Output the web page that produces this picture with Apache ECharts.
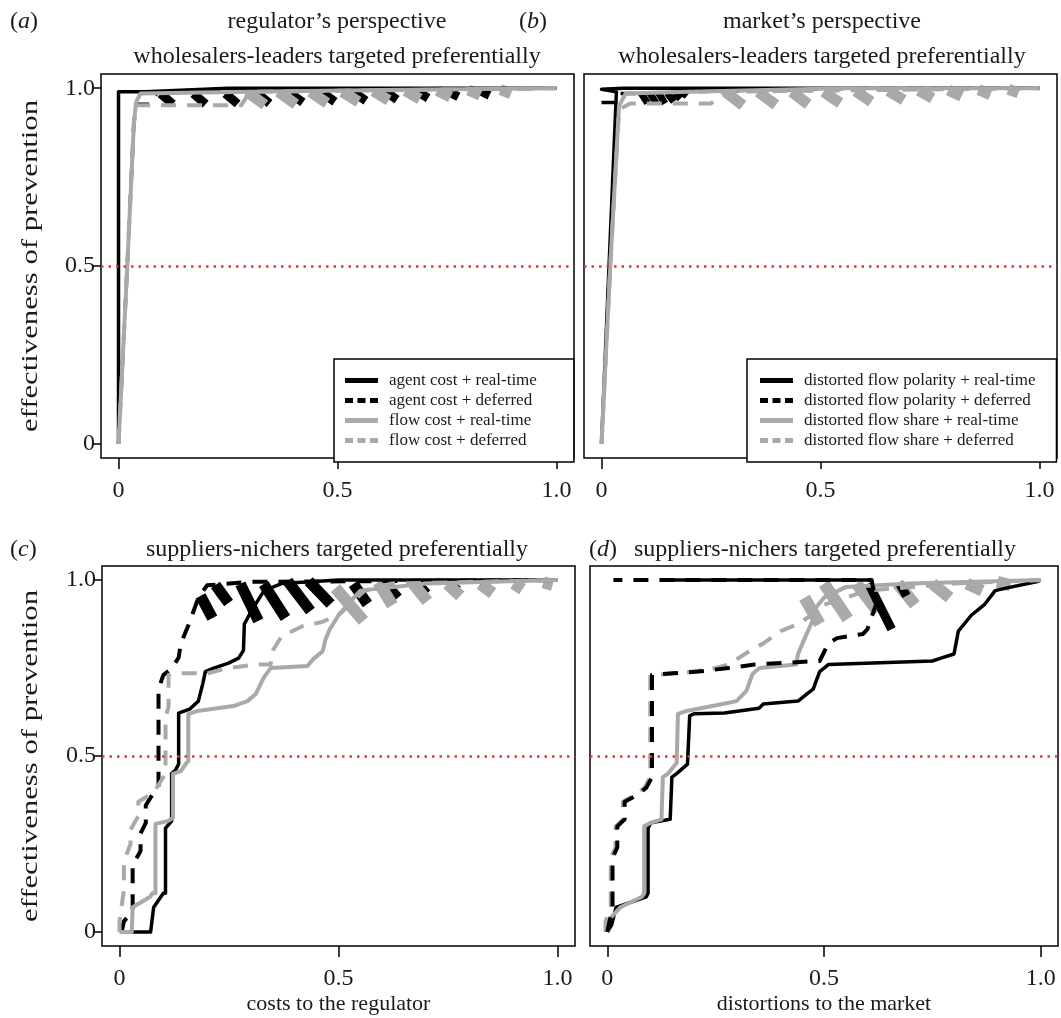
<!DOCTYPE html>
<html>
<head>
<meta charset="utf-8">
<script src="https://cdn.jsdelivr.net/npm/echarts@6/dist/echarts.min.js"></script>
<style>
  html, body { margin: 0; padding: 0; background: #fff; }
  #chart { width: 1061px; height: 1018px; }
</style>
</head>
<body>
<div id="chart"></div>
<script>
// ---- tick labels ----
const tickValues = [0, 0.5, 1.0];
const tickLabels = ['0', '0.5', '1.0'];

// ---- legend names ----
const namesCost = ['agent cost + real-time', 'agent cost + deferred', 'flow cost + real-time', 'flow cost + deferred'];
const namesMarket = ['distorted flow polarity + real-time', 'distorted flow polarity + deferred',
  'distorted flow share + real-time', 'distorted flow share + deferred'];

// ---- panel (a): regulator, wholesalers-leaders ----
const aBlackSolid = [[0, 0], [0, 0.99], [0.06, 0.99], [0.25, 1.0], [1, 1]];
const aBlackDashed = [[0, 0], [0.02, 0.5], [0.035, 0.9], [0.04, 0.955], [0.07, 0.955], [0.09, 0.99], [1, 1]];
const aGraySolid = [[0, 0], [0.02, 0.5], [0.035, 0.9], [0.04, 0.96], [0.05, 0.985], [0.3, 0.99], [0.6, 0.995], [1, 1]];
const aGrayDashed = [[0, 0], [0.02, 0.5], [0.035, 0.9], [0.04, 0.952], [0.28, 0.952], [0.3, 0.99], [1, 1]];
const aBlackHatch = [
  [0.096, 0.985, 0.124, 0.955], [0.171, 0.985, 0.199, 0.955], [0.244, 0.985, 0.272, 0.956],
  [0.317, 0.985, 0.345, 0.957], [0.393, 0.985, 0.421, 0.96], [0.466, 0.987, 0.494, 0.962],
  [0.537, 0.988, 0.565, 0.965], [0.61, 0.99, 0.636, 0.968], [0.683, 0.99, 0.707, 0.972],
  [0.754, 0.99, 0.776, 0.976], [0.827, 0.992, 0.847, 0.98]
];
const aGrayHatch = [
  [0.294, 0.99, 0.334, 0.953], [0.365, 0.99, 0.405, 0.955], [0.438, 0.99, 0.476, 0.958],
  [0.511, 0.99, 0.548, 0.962], [0.582, 0.992, 0.617, 0.966], [0.655, 0.993, 0.688, 0.97],
  [0.728, 0.994, 0.758, 0.975], [0.799, 0.995, 0.826, 0.98], [0.872, 0.996, 0.896, 0.985]
];

// ---- panel (b): market, wholesalers-leaders ----
const bBlackSolid = [[0, 0], [0.034, 0.99], [0, 0.997], [0.05, 1.0], [1, 1]];
const bBlackDashed = [[0, 0.96], [0.035, 0.96], [0.04, 0.985], [0.09, 0.985], [0.2, 0.99], [0.59, 1.0], [1, 1]];
const bGraySolid = [[0, 0], [0.02, 0.5], [0.04, 0.95], [0.055, 0.985], [0.2, 0.99], [0.55, 1.0], [1, 1]];
const bGrayDashed = [[0, 0], [0.02, 0.5], [0.04, 0.94], [0.065, 0.957], [0.25, 0.957], [0.283, 0.99], [1, 1]];
const bBlackHatch = [
  [0.09, 0.987, 0.105, 0.958], [0.11, 0.987, 0.125, 0.957], [0.13, 0.987, 0.145, 0.957],
  [0.15, 0.987, 0.165, 0.962], [0.168, 0.987, 0.18, 0.97], [0.185, 0.988, 0.195, 0.978]
];
const bGrayHatch = [
  [0.283, 0.99, 0.323, 0.952], [0.358, 0.99, 0.398, 0.953], [0.434, 0.99, 0.472, 0.955],
  [0.507, 0.99, 0.545, 0.958], [0.58, 0.992, 0.616, 0.962], [0.655, 0.993, 0.69, 0.967],
  [0.724, 0.994, 0.756, 0.972], [0.792, 0.995, 0.822, 0.977], [0.861, 0.996, 0.888, 0.982],
  [0.929, 0.997, 0.952, 0.987]
];

// ---- panel (c): regulator, suppliers-nichers ----
const cBlackSolid = [[0.02, 0], [0.071, 0], [0.078, 0.07], [0.1, 0.11], [0.105, 0.11], [0.105, 0.295],
  [0.119, 0.315], [0.119, 0.45], [0.128, 0.46], [0.135, 0.477], [0.135, 0.622], [0.16, 0.633],
  [0.18, 0.656], [0.19, 0.705], [0.196, 0.74], [0.215, 0.75], [0.249, 0.764], [0.272, 0.778],
  [0.283, 0.8], [0.285, 0.875], [0.3, 0.91], [0.315, 0.94], [0.33, 0.97], [0.37, 0.99], [0.5, 1.0], [1, 1]];
const cBlackDashed = [[0.005, 0], [0.01, 0.03], [0.03, 0.06], [0.03, 0.19], [0.048, 0.23], [0.048, 0.28],
  [0.06, 0.31], [0.06, 0.36], [0.075, 0.39], [0.089, 0.41], [0.089, 0.69], [0.1, 0.73], [0.12, 0.75],
  [0.135, 0.78], [0.14, 0.82], [0.16, 0.88], [0.18, 0.95], [0.2, 0.985], [0.3, 0.995], [1, 1]];
const cGraySolid = [[0, 0], [0.028, 0], [0.03, 0.07], [0.07, 0.1], [0.075, 0.11], [0.082, 0.11], [0.082, 0.307],
  [0.11, 0.315], [0.122, 0.324], [0.122, 0.449], [0.14, 0.457], [0.151, 0.477], [0.157, 0.486],
  [0.157, 0.619], [0.178, 0.628], [0.26, 0.642], [0.292, 0.656], [0.311, 0.676], [0.329, 0.722],
  [0.345, 0.75], [0.429, 0.756], [0.443, 0.776], [0.464, 0.798], [0.47, 0.83], [0.48, 0.86],
  [0.5, 0.9], [0.52, 0.93], [0.55, 0.97], [0.7, 0.99], [1, 1]];
const cGrayDashed = [[0, 0], [0, 0.03], [0.01, 0.12], [0.01, 0.2], [0.025, 0.25], [0.025, 0.29], [0.043, 0.33],
  [0.043, 0.37], [0.07, 0.39], [0.08, 0.4], [0.105, 0.45], [0.105, 0.61], [0.112, 0.64], [0.112, 0.73],
  [0.14, 0.735], [0.2, 0.735], [0.25, 0.75], [0.31, 0.76], [0.345, 0.76], [0.35, 0.8], [0.37, 0.84],
  [0.42, 0.87], [0.46, 0.88], [0.5, 0.9], [0.56, 0.97], [0.62, 0.99], [1, 1]];
const cBlackHatch = [
  [0.185, 0.955, 0.212, 0.892], [0.219, 0.986, 0.249, 0.935], [0.276, 0.989, 0.317, 0.884],
  [0.329, 0.989, 0.379, 0.892], [0.384, 0.997, 0.436, 0.912], [0.432, 0.997, 0.482, 0.932],
  [0.534, 0.989, 0.566, 0.932], [0.607, 0.989, 0.635, 0.949], [0.68, 0.989, 0.7, 0.96],
  [0.749, 0.989, 0.772, 0.969], [0.824, 0.989, 0.84, 0.977]
];
const cGrayHatch = [
  [0.493, 0.977, 0.557, 0.884], [0.591, 0.994, 0.623, 0.929], [0.671, 0.989, 0.703, 0.94],
  [0.749, 0.989, 0.778, 0.955], [0.824, 0.989, 0.852, 0.963], [0.9, 0.991, 0.92, 0.974],
  [0.968, 0.994, 0.989, 0.986]
];

// ---- panel (d): market, suppliers-nichers ----
const dBlackSolid = [[0, 0], [0.01, 0.02], [0.02, 0.07], [0.09, 0.1], [0.094, 0.11], [0.094, 0.295], [0.1, 0.31],
  [0.145, 0.32], [0.149, 0.44], [0.16, 0.45], [0.185, 0.477], [0.19, 0.614], [0.2, 0.62], [0.27, 0.622],
  [0.35, 0.636], [0.36, 0.648], [0.44, 0.656], [0.46, 0.676], [0.475, 0.69], [0.49, 0.74], [0.51, 0.76],
  [0.75, 0.77], [0.77, 0.778], [0.8, 0.79], [0.81, 0.855], [0.84, 0.9], [0.87, 0.93], [0.895, 0.97],
  [0.92, 0.977], [0.99, 0.995], [1, 1]];
const dBlackDashed = [[0, 0], [0.005, 0.03], [0.012, 0.07], [0.012, 0.21], [0.023, 0.24], [0.023, 0.3],
  [0.04, 0.32], [0.04, 0.37], [0.07, 0.39], [0.09, 0.41], [0.103, 0.44], [0.103, 0.73], [0.15, 0.735],
  [0.21, 0.74], [0.28, 0.75], [0.34, 0.76], [0.41, 0.765], [0.49, 0.77], [0.51, 0.82], [0.53, 0.835],
  [0.59, 0.847], [0.6, 0.86], [0.62, 0.93], [0.61, 1.0], [0.3, 1.0], [0.014, 1.0]];
const dBlackTop = [[0.128, 1.0], [0.61, 1.0]];
const dGraySolid = [[0, 0], [0, 0.03], [0.03, 0.07], [0.08, 0.1], [0.085, 0.11], [0.085, 0.3], [0.1, 0.31],
  [0.125, 0.32], [0.128, 0.44], [0.14, 0.45], [0.16, 0.48], [0.163, 0.62], [0.18, 0.627], [0.266, 0.648],
  [0.298, 0.656], [0.321, 0.685], [0.335, 0.733], [0.351, 0.75], [0.436, 0.76], [0.44, 0.79],
  [0.46, 0.847], [0.472, 0.88], [0.48, 0.92], [0.5, 0.95], [0.55, 0.98], [0.7, 0.99], [1, 1]];
const dGrayDashed = [[-0.004, 0], [-0.004, 0.03], [0.008, 0.07], [0.008, 0.21], [0.019, 0.24], [0.019, 0.3],
  [0.036, 0.32], [0.036, 0.37], [0.066, 0.39], [0.086, 0.41], [0.099, 0.44], [0.099, 0.73], [0.14, 0.733],
  [0.2, 0.74], [0.25, 0.75], [0.28, 0.76], [0.33, 0.8], [0.36, 0.82], [0.4, 0.855], [0.44, 0.875],
  [0.47, 0.9], [0.5, 0.93], [0.6, 0.97], [0.8, 0.99], [1, 1]];
const dBlackHatch = [[0.603, 0.99, 0.656, 0.86], [0.675, 0.99, 0.69, 0.955]];
const dGrayHatch = [
  [0.455, 0.95, 0.49, 0.875], [0.5, 0.99, 0.555, 0.89], [0.575, 0.99, 0.625, 0.91],
  [0.67, 0.99, 0.71, 0.93], [0.75, 0.99, 0.79, 0.95], [0.83, 0.99, 0.865, 0.97], [0.9, 0.995, 0.93, 0.985]
];

const threshold = 0.5;

const FONT = 'Liberation Serif';
const BLACK = '#000000';
const GRAY = '#a9a9a9';
const TEXT = '#1a1a1a';
const DASH = [15, 11];
const ICON_SOLID = 'path://M0,0H33V5H0Z';
const ICON_DASHED = 'path://M0,0H8V5H0ZM12.5,0H20.5V5H12.5ZM25,0H33V5H25Z';

function fmt(v) {
  const i = tickValues.indexOf(Math.round(v * 100) / 100);
  return i >= 0 ? tickLabels[i] : '';
}

function xAxisFor(i, name) {
  return {
    type: 'value', gridIndex: i, min: -0.04, max: 1.04,
    axisLine: { show: false, onZero: false },
    splitLine: { show: false },
    axisTick: { show: true, length: 11, customValues: tickValues, lineStyle: { color: BLACK, width: 1.5 } },
    axisLabel: { customValues: tickValues, formatter: fmt, fontSize: 24, fontFamily: FONT, color: TEXT, margin: 21 },
    name: name || '', nameLocation: 'middle', nameGap: 47,
    nameTextStyle: { fontSize: 22, fontFamily: FONT, color: TEXT }
  };
}

function yAxisFor(i, showLabels) {
  return {
    type: 'value', gridIndex: i, min: -0.04, max: 1.04,
    axisLine: { show: false, onZero: false },
    splitLine: { show: false },
    axisTick: { show: showLabels, length: 9, customValues: tickValues, lineStyle: { color: BLACK, width: 1.5 } },
    axisLabel: { show: showLabels, customValues: tickValues, formatter: fmt, fontSize: 24, fontFamily: FONT, color: TEXT, margin: 6 }
  };
}

function line(name, data, idx, color, dashed, width, withMark) {
  const s = {
    type: 'line', name, data, xAxisIndex: idx, yAxisIndex: idx,
    symbol: 'none', showSymbol: false, silent: true,
    lineStyle: { color, width, type: dashed ? DASH : 'solid', cap: 'butt', join: 'round' },
    itemStyle: { color }
  };
  if (withMark) {
    s.markLine = {
      silent: true, symbol: 'none', label: { show: false },
      lineStyle: { color: '#e03a2f', type: [2.5, 5], width: 2.5 },
      data: [{ yAxis: threshold }]
    };
  }
  return s;
}

function hatch(data, idx, color, width) {
  return {
    type: 'custom', data, xAxisIndex: idx, yAxisIndex: idx, silent: true,
    encode: { x: [0, 2], y: [1, 3] },
    renderItem(params, api) {
      const p1 = api.coord([api.value(0), api.value(1)]);
      const p2 = api.coord([api.value(2), api.value(3)]);
      return {
        type: 'line',
        shape: { x1: p1[0], y1: p1[1], x2: p2[0], y2: p2[1] },
        style: { stroke: color, lineWidth: width, lineCap: 'butt' }
      };
    }
  };
}

const series = [
  // (a)
  line(namesCost[0], aBlackSolid, 0, BLACK, false, 3.5, true),
  line(namesCost[1], aBlackDashed, 0, BLACK, true, 3.5),
  hatch(aBlackHatch, 0, BLACK, 9),
  line(namesCost[2], aGraySolid, 0, GRAY, false, 4),
  line(namesCost[3], aGrayDashed, 0, GRAY, true, 4),
  hatch(aGrayHatch, 0, GRAY, 11),
  // (b)
  line(namesMarket[0], bBlackSolid, 1, BLACK, false, 3.5, true),
  line(namesMarket[1], bBlackDashed, 1, BLACK, true, 3.5),
  hatch(bBlackHatch, 1, BLACK, 7),
  line(namesMarket[2], bGraySolid, 1, GRAY, false, 4),
  line(namesMarket[3], bGrayDashed, 1, GRAY, true, 4),
  hatch(bGrayHatch, 1, GRAY, 11),
  // (c)
  line(namesCost[0], cBlackSolid, 2, BLACK, false, 3.5, true),
  line(namesCost[1], cBlackDashed, 2, BLACK, true, 4),
  hatch(cBlackHatch, 2, BLACK, 11),
  line(namesCost[2], cGraySolid, 2, GRAY, false, 4),
  line(namesCost[3], cGrayDashed, 2, GRAY, true, 4),
  hatch(cGrayHatch, 2, GRAY, 12),
  // (d)
  line(namesMarket[0], dBlackSolid, 3, BLACK, false, 3.5, true),
  line(namesMarket[2], dGraySolid, 3, GRAY, false, 4),
  line(namesMarket[3], dGrayDashed, 3, GRAY, true, 4),
  hatch(dGrayHatch, 3, GRAY, 12),
  line(namesMarket[1], dBlackDashed, 3, BLACK, true, 4),
  hatch(dBlackHatch, 3, BLACK, 9),
  line('', dBlackTop, 3, BLACK, false, 3.5)
];

function legendFor(names, left, padding) {
  return {
    orient: 'vertical', left, top: 359,
    data: names.map((n, k) => ({ name: n, icon: k % 2 === 1 ? ICON_DASHED : ICON_SOLID })),
    itemWidth: 33, itemHeight: 5, itemGap: 3,
    padding, backgroundColor: '#ffffff', borderColor: BLACK, borderWidth: 1.5, borderRadius: 0,
    selectedMode: false,
    textStyle: { fontSize: 17, fontFamily: FONT, color: TEXT, lineHeight: 16, padding: [0, 0, 0, 6] }
  };
}

function txt(x, y, text, align, rich) {
  return {
    type: 'text', x, y, silent: true,
    style: {
      text, x: 0, y: 0, align: align || 'center', verticalAlign: 'middle',
      fontSize: 24, fontFamily: FONT, fill: TEXT,
      rich: rich ? {
        n: { fontSize: 24, fontFamily: FONT, fill: TEXT },
        i: { fontSize: 24, fontFamily: FONT, fill: TEXT, fontStyle: 'italic' }
      } : undefined
    }
  };
}

function yName(y) {
  return {
    type: 'text', x: 31, y, rotation: Math.PI / 2, scaleX: 1.28, silent: true,
    style: {
      text: 'effectiveness of prevention', x: 0, y: 0, align: 'center', verticalAlign: 'middle',
      fontSize: 24, fontFamily: FONT, fill: TEXT
    }
  };
}

const chart = echarts.init(document.getElementById('chart'), null, { renderer: 'canvas' });
chart.setOption({
  animation: false,
  backgroundColor: '#ffffff',
  grid: [
    { left: 101, top: 74, width: 473, height: 384, show: true, borderColor: BLACK, borderWidth: 1.5, backgroundColor: 'transparent' },
    { left: 584, top: 74, width: 473, height: 384, show: true, borderColor: BLACK, borderWidth: 1.5, backgroundColor: 'transparent' },
    { left: 102, top: 566, width: 473, height: 380, show: true, borderColor: BLACK, borderWidth: 1.5, backgroundColor: 'transparent' },
    { left: 590, top: 566, width: 468, height: 380, show: true, borderColor: BLACK, borderWidth: 1.5, backgroundColor: 'transparent' }
  ],
  xAxis: [xAxisFor(0), xAxisFor(1), xAxisFor(2, 'costs to the regulator'), xAxisFor(3, 'distortions to the market')],
  yAxis: [yAxisFor(0, true), yAxisFor(1, false), yAxisFor(2, true), yAxisFor(3, false)],
  legend: [
    legendFor(namesCost, 334, [13, 37, 13, 11]),
    legendFor(namesMarket, 747, [13, 21, 13, 13])
  ],
  graphic: [
    txt(10, 22, '{n|(}{i|a}{n|)}', 'left', true),
    txt(337, 22, 'regulator’s perspective'),
    txt(337, 57, 'wholesalers-leaders targeted preferentially'),
    txt(519, 22, '{n|(}{i|b}{n|)}', 'left', true),
    txt(822, 22, 'market’s perspective'),
    txt(822, 57, 'wholesalers-leaders targeted preferentially'),
    txt(10, 550, '{n|(}{i|c}{n|)}', 'left', true),
    txt(337, 550, 'suppliers-nichers targeted preferentially'),
    txt(589, 550, '{n|(}{i|d}{n|)}', 'left', true),
    txt(825, 550, 'suppliers-nichers targeted preferentially'),
    yName(266),
    yName(756)
  ],
  series
});
</script>
</body>
</html>
